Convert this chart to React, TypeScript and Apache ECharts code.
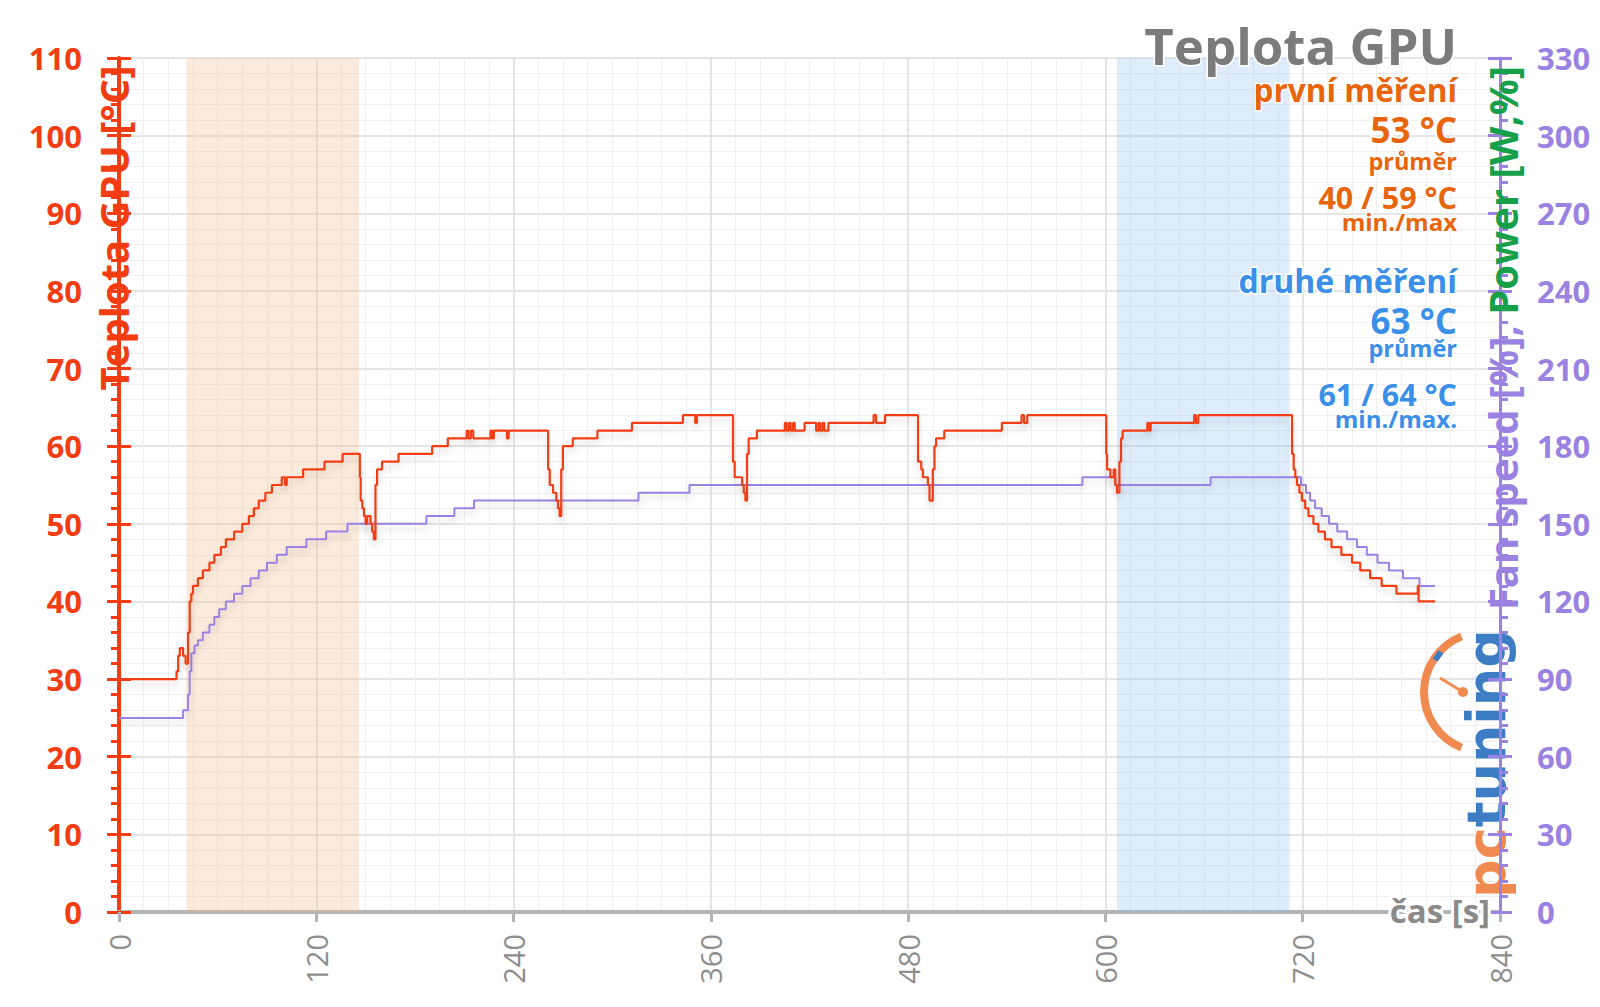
import React, { useEffect, useRef } from 'react';
import * as echarts from 'echarts';

// ---------- data ----------
// time [s], temperature [°C]  (value held until next point)
const temperature: [number, number][] = [
  [0, 30], [35, 31], [36, 33], [37, 34], [39, 33], [40.5, 32], [42, 36], [43, 40], [44, 41], [45, 42],
  [48, 43], [51, 44], [55, 45], [58, 46], [62, 47], [65, 48], [70, 49], [75, 50], [79, 51], [82, 52],
  [85, 53], [89, 54], [93, 55], [99, 56], [101, 55], [102, 56], [112, 57], [125, 58], [136, 59],
  [146.5, 56], [147, 53], [148, 52], [149, 51], [150, 50], [151, 51], [153, 50], [154, 49], [155, 48],
  [156, 55], [157, 57], [160, 58], [170, 59], [190.5, 60], [200, 61], [211.5, 62], [212.5, 61],
  [214, 62], [215.5, 61], [226, 62], [227, 61], [228, 62], [236, 61], [237, 62], [261, 57], [262, 55],
  [264, 54], [266, 53], [267, 52], [268, 51], [269, 57], [270, 60], [276, 61], [291, 62], [312, 63],
  [343, 64], [350.5, 63], [351.5, 64], [373.5, 58], [374.5, 56], [379, 55], [380, 54], [381, 53],
  [382, 59], [383, 61], [388, 62], [405, 63], [406, 62], [407.5, 63], [408.5, 62], [410, 63], [411, 62],
  [417, 63], [424, 62], [425.5, 63], [426.5, 62], [428, 63], [429, 62], [431.5, 63], [459, 64],
  [460.5, 63], [466, 64], [486, 58], [488, 57], [489, 56], [492, 55], [493, 53], [495, 57], [496, 60],
  [497, 61], [502, 62], [537, 63], [549, 64], [550.5, 63], [552.5, 64], [600.5, 59], [601, 57],
  [603, 56], [605, 57], [606, 55], [607, 54], [608.5, 58], [609.5, 61], [610.5, 62], [625.5, 63],
  [626.5, 62], [627.5, 63], [654, 64], [655, 63], [656.5, 64], [713.5, 59], [714.5, 57], [715.5, 56],
  [716.5, 55], [718, 54], [719.5, 53], [721.5, 52], [723.5, 51], [726.5, 50], [729.5, 49], [733.5, 48],
  [737.5, 47], [743.5, 46], [750, 45], [755, 44], [761, 43], [768, 42], [777, 41], [790, 42],
  [790.5, 40], [800.5, 40],
];

// time [s], fan speed (right axis units)
const fanSpeed: [number, number][] = [
  [0, 75], [39, 78], [42, 84], [43, 93], [44, 100], [46, 103], [48, 105], [51, 108], [55, 111],
  [58, 114], [61, 117], [65, 120], [70, 123], [75, 126], [80, 129], [85, 132], [90, 135], [96, 138],
  [102, 141], [114, 144], [126, 147], [139, 150], [187, 153], [204, 156], [216, 159], [316, 162],
  [347, 165], [586, 168], [606, 165], [664, 168], [719, 165], [722, 162], [724.5, 159], [727.5, 156],
  [731.5, 153], [736, 150], [741, 147], [747, 144], [753, 141], [759, 138], [765.5, 135],
  [772.5, 132], [781, 129], [791, 126], [800.5, 126],
];

const timeAxis = { min: 0, max: 840, step: 120 };
const tempAxis = { min: 0, max: 110, step: 10 };
const fanAxis = { min: 0, max: 330, step: 30 };

const firstRunRange = [41, 146];
const secondRunRange = [607, 712];

const chartTitle = 'Teplota GPU';
const firstRun = ['první měření', '53 °C', 'průměr', '40 / 59 °C', 'min./max'];
const secondRun = ['druhé měření', '63 °C', 'průměr', '61 / 64 °C', 'min./max.'];
const leftAxisName = 'Teplota GPU [°C]';
const rightAxisNameA = 'Fan speed [%], ';
const rightAxisNameB = 'Power [W,%]';
const xAxisName = 'čas [s]';

// ---------- styles ----------
const RED = '#f23c12';
const PURPLE = '#9a82e2';
const GREEN = '#17a04a';
const ORANGE = '#e8650c';
const BLUE = '#3a8fe8';
const GRAY = '#8e8e8e';
const FONT = '"Open Sans", "Noto Sans", sans-serif';

const txt = (text: string, x: number, y: number, size: number, color: string, weight = 'bold') => ({
  type: 'text',
  x,
  y,
  z: 50,
  silent: true,
  style: {
    text,
    fill: color,
    fontSize: size,
    fontWeight: weight,
    fontFamily: FONT,
    align: 'right',
    verticalAlign: 'middle',
    textAlign: 'right',
    textVerticalAlign: 'middle',
    stroke: '#ffffff',
    lineWidth: 3,
  },
});

const RX = 1457;

const option: any = {
  animation: false,
  backgroundColor: '#ffffff',
  grid: { left: 119, right: 100, top: 58, bottom: 95, containLabel: false },
  xAxis: {
    type: 'value',
    min: timeAxis.min,
    max: timeAxis.max,
    interval: timeAxis.step,
    axisLine: { show: true, onZero: false, lineStyle: { color: '#b4b4b4', width: 4 } },
    axisTick: { show: true, length: 10, lineStyle: { color: '#b4b4b4', width: 3 } },
    axisLabel: { rotate: 90, margin: 22, color: GRAY, fontSize: 29, fontFamily: FONT },
    splitLine: { show: true, lineStyle: { color: '#dcdcdc', width: 1.5 } },
    minorTick: { show: false, splitNumber: 8 },
    minorSplitLine: { show: true, lineStyle: { color: '#efefef', width: 1 } },
  },
  yAxis: [
    {
      type: 'value',
      position: 'left',
      min: tempAxis.min,
      max: tempAxis.max,
      interval: tempAxis.step,
      axisLine: { show: true, lineStyle: { color: RED, width: 4 } },
      axisTick: { show: true, length: 12, lineStyle: { color: RED, width: 3 } },
      minorTick: { show: true, splitNumber: 5, length: 8, lineStyle: { color: RED, width: 3 } },
      axisLabel: { color: RED, fontSize: 31, fontWeight: 'bold', fontFamily: FONT, margin: 37 },
      splitLine: { show: true, lineStyle: { color: '#dcdcdc', width: 1.5 } },
      minorSplitLine: { show: true, lineStyle: { color: '#efefef', width: 1 } },
    },
    {
      type: 'value',
      position: 'right',
      min: fanAxis.min,
      max: fanAxis.max,
      interval: fanAxis.step,
      axisLine: { show: true, lineStyle: { color: PURPLE, width: 3 } },
      axisTick: { show: true, length: 12, lineStyle: { color: PURPLE, width: 3 } },
      minorTick: { show: true, splitNumber: 5, length: 8, lineStyle: { color: PURPLE, width: 3 } },
      axisLabel: { color: PURPLE, fontSize: 31, fontWeight: 'bold', fontFamily: FONT, margin: 37 },
      splitLine: { show: false },
      z: 5,
    },
    {
      type: 'value',
      position: 'left',
      min: tempAxis.min,
      max: tempAxis.max,
      interval: tempAxis.step,
      axisLine: { show: false },
      axisTick: { show: true, inside: true, length: 12, lineStyle: { color: RED, width: 3 } },
      axisLabel: { show: false },
      splitLine: { show: false },
    },
    {
      type: 'value',
      position: 'right',
      min: fanAxis.min,
      max: fanAxis.max,
      interval: fanAxis.step,
      axisLine: { show: false },
      axisTick: { show: true, inside: true, length: 12, lineStyle: { color: PURPLE, width: 3 } },
      axisLabel: { show: false },
      splitLine: { show: false },
      z: 5,
    },
  ],
  series: [
    {
      type: 'line',
      yAxisIndex: 0,
      data: [],
      z: 1,
      silent: true,
      markArea: {
        silent: true,
        data: [
          [{ xAxis: firstRunRange[0], itemStyle: { color: 'rgba(245,190,140,0.30)' } }, { xAxis: firstRunRange[1] }],
          [{ xAxis: secondRunRange[0], itemStyle: { color: 'rgba(135,185,245,0.28)' } }, { xAxis: secondRunRange[1] }],
        ],
      },
    },
    {
      type: 'line',
      yAxisIndex: 1,
      data: fanSpeed,
      step: 'end',
      symbol: 'none',
      z: 3,
      lineStyle: { color: PURPLE, width: 2, shadowColor: 'rgba(0,0,0,0.15)', shadowBlur: 6, shadowOffsetY: 5 },
    },
    {
      type: 'line',
      yAxisIndex: 0,
      data: temperature,
      step: 'end',
      symbol: 'none',
      z: 4,
      lineStyle: { color: RED, width: 2.2, shadowColor: 'rgba(0,0,0,0.15)', shadowBlur: 6, shadowOffsetY: 5 },
    },
  ],
  graphic: [
    // logo
    {
      type: 'arc',
      z: 2,
      silent: true,
      shape: { cx: 1484, cy: 692, r: 60, startAngle: (112 * Math.PI) / 180, endAngle: (248 * Math.PI) / 180, clockwise: true },
      style: { stroke: '#f08a50', lineWidth: 8, fill: 'none' },
    },
    {
      type: 'line',
      z: 2,
      silent: true,
      shape: { x1: 1440, y1: 678, x2: 1463, y2: 692 },
      style: { stroke: '#f08a50', lineWidth: 3 },
    },
    { type: 'circle', z: 2, silent: true, shape: { cx: 1463, cy: 692, r: 5 }, style: { fill: '#f08a50' } },
    {
      type: 'line',
      z: 2,
      silent: true,
      shape: { x1: 1435, y1: 660, x2: 1441, y2: 652 },
      style: { stroke: '#3c7dc4', lineWidth: 6 },
    },
    {
      type: 'text',
      x: 1486,
      y: 898,
      rotation: Math.PI / 2,
      z: 2,
      silent: true,
      style: {
        text: '{p|pc}{t|tuning}',
        align: 'left',
        verticalAlign: 'middle',
        rich: {
          p: { fill: '#f08a50', fontSize: 54, fontWeight: 'bold', fontFamily: '"DejaVu Sans"' },
          t: { fill: '#3c7dc4', fontSize: 54, fontWeight: 'bold', fontFamily: '"DejaVu Sans"' },
        },
      },
    },
    // title and stats
    txt(chartTitle, RX, 45, 51, '#7b7b7b'),
    txt(firstRun[0], RX, 89, 31.5, ORANGE),
    txt(firstRun[1], RX, 129, 35, ORANGE),
    txt(firstRun[2], RX, 161, 23.5, ORANGE),
    txt(firstRun[3], RX, 197, 30.5, ORANGE),
    txt(firstRun[4], RX, 221, 24, ORANGE),
    txt(secondRun[0], RX, 280, 32, BLUE),
    txt(secondRun[1], RX, 320, 35, BLUE),
    txt(secondRun[2], RX, 348, 23.5, BLUE),
    txt(secondRun[3], RX, 394, 30.5, BLUE),
    txt(secondRun[4], RX, 418, 24, BLUE),
    // axis names
    {
      type: 'text',
      x: 113,
      y: 228,
      rotation: Math.PI / 2,
      z: 40,
      silent: true,
      style: {
        text: leftAxisName,
        fill: RED,
        fontSize: 40,
        fontWeight: 'bold',
        fontFamily: FONT,
        align: 'center',
        verticalAlign: 'middle',
      },
    },
    {
      type: 'text',
      x: 1502,
      y: 338,
      rotation: Math.PI / 2,
      z: 40,
      silent: true,
      style: {
        text: '{a|' + rightAxisNameA + '}{b|' + rightAxisNameB + '}',
        align: 'center',
        verticalAlign: 'middle',
        rich: {
          a: { fill: PURPLE, fontSize: 40, fontWeight: 'bold', fontFamily: FONT },
          b: { fill: GREEN, fontSize: 40, fontWeight: 'bold', fontFamily: FONT },
        },
      },
    },
    {
      type: 'text',
      x: 1490,
      y: 910,
      z: 60,
      silent: true,
      style: {
        text: xAxisName,
        fill: '#8a8a8a',
        fontSize: 33,
        fontWeight: 'bold',
        fontFamily: FONT,
        align: 'right',
        verticalAlign: 'middle',
        stroke: '#ffffff',
        lineWidth: 6,
      },
    },
  ],
};

export default function App() {
  const ref = useRef<HTMLDivElement>(null);
  useEffect(() => {
    const chart = echarts.init(ref.current as HTMLDivElement, null, { renderer: 'svg' });
    chart.setOption(option);
    return () => chart.dispose();
  }, []);
  return (
    <div
      ref={ref}
      style={{ position: 'fixed', left: 0, top: 0, width: 1600, height: 1007, background: '#ffffff' }}
    />
  );
}
